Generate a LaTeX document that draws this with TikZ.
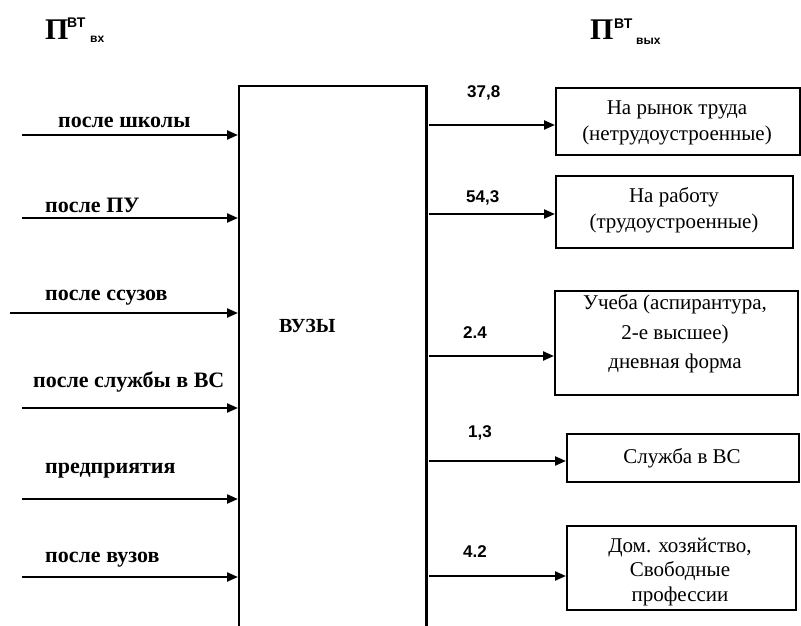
\documentclass[tikz,border=0pt]{standalone}
\usepackage{fontspec}
\setmainfont{Liberation Serif}
\newfontfamily\arialf{Liberation Sans}
\usetikzlibrary{arrows.meta}
\tikzset{
  lbl/.style={anchor=base west, inner sep=0pt, font=\fontsize{22}{26}\selectfont\bfseries},
  num/.style={anchor=base west, inner sep=0pt, font=\arialf\fontsize{17}{20}\selectfont\bfseries},
  outbox/.style={draw, line width=2pt, inner sep=0pt, anchor=north west},
  boxtxt/.style={align=center, inner sep=0pt, font=\fontsize{21}{26}\selectfont},
  arr/.style={line width=2.2pt, -{Triangle[length=11pt,width=9pt]}},
  bigP/.style={anchor=base west, inner sep=0pt, font=\fontsize{30}{34}\selectfont\bfseries},
  supf/.style={anchor=base west, inner sep=0pt, font=\arialf\fontsize{14}{16}\selectfont\bfseries},
  subf/.style={anchor=base west, inner sep=0pt, font=\arialf\fontsize{12}{14}\selectfont\bfseries},
}
\begin{document}
\begin{tikzpicture}[x=1pt,y=-1pt]
\useasboundingbox (0,0) rectangle (801,626);
% headers
\node[bigP] (pin) at (45,40) {П};
\node[supf] (pinsup) at (67,28) {ВТ};
\node[subf] (pinsub) at (90,43) {вх};
\node[bigP] (pout) at (590,40) {П};
\node[supf] (poutsup) at (614,29) {ВТ};
\node[subf] (poutsub) at (636,45) {вых};
% main block (open at the bottom)
\node[minimum width=187pt, minimum height=560pt, inner sep=0pt, anchor=north west] (vuz) at (239,86) {};
\draw[line width=2.2pt] (vuz.south west) -- (vuz.north west) -- (vuz.north east) -- (vuz.south east);
\node[anchor=base west, inner sep=0pt, font=\fontsize{20}{24}\selectfont\bfseries] (vuzt) at (279,332) {ВУЗЫ};
% inputs
\coordinate (i1) at (22,135);
\coordinate (i2) at (22,218);
\coordinate (i3) at (10,313);
\coordinate (i4) at (22,408);
\coordinate (i5) at (22,499);
\coordinate (i6) at (22,577);
\foreach \i in {1,...,6}{\draw[arr] (i\i) -- ([xshift=-1pt]i\i -| vuz.west);}
\node[lbl] (l1) at (58,128) {после школы};
\node[lbl] (l2) at (45,212) {после ПУ};
\node[lbl] (l3) at (45,300) {после ссузов};
\node[lbl] (l4) at (33,387) {после службы в ВС};
\node[lbl] (l5) at (45,473) {предприятия};
\node[lbl] (l6) at (45,562) {после вузов};
% output boxes
\node[outbox, minimum width=244pt, minimum height=67pt] (o1) at (555,87) {};
\node[outbox, minimum width=237pt, minimum height=72pt] (o2) at (555,175) {};
\node[outbox, minimum width=243pt, minimum height=104pt] (o3) at (554,290) {};
\node[outbox, minimum width=232pt, minimum height=48pt] (o4) at (566,433) {};
\node[outbox, minimum width=229pt, minimum height=84pt] (o5) at (566,525) {};
\node[boxtxt] (t1) at (677,123) {На рынок труда\\(нетрудоустроенные)};
\node[boxtxt] (t2) at (674,210) {На работу\\(трудоустроенные)};
\node[boxtxt, font=\fontsize{21}{29.5}\selectfont] (t3) at (675,334) {Учеба (аспирантура,\\2-е высшее)\\дневная форма};
\node[boxtxt] (t4) at (682,458) {Служба в ВС};
\node[boxtxt, font=\fontsize{21}{24.5}\selectfont] (t5) at (680,572) {Дом. хозяйство,\\Свободные\\профессии};
% outputs
\coordinate (s1) at (429,125);
\coordinate (s2) at (429,214);
\coordinate (s3) at (429,356);
\coordinate (s4) at (429,461);
\coordinate (s5) at (429,576);
\foreach \i in {1,...,5}{\draw[arr] (s\i) -- (s\i -| o\i.west);}
\node[num] (n1) at (467,97) {37,8};
\node[num] (n2) at (466,202) {54,3};
\node[num] (n3) at (463,338) {2.4};
\node[num] (n4) at (468,437) {1,3};
\node[num] (n5) at (463,557) {4.2};
\end{tikzpicture}
\end{document}
